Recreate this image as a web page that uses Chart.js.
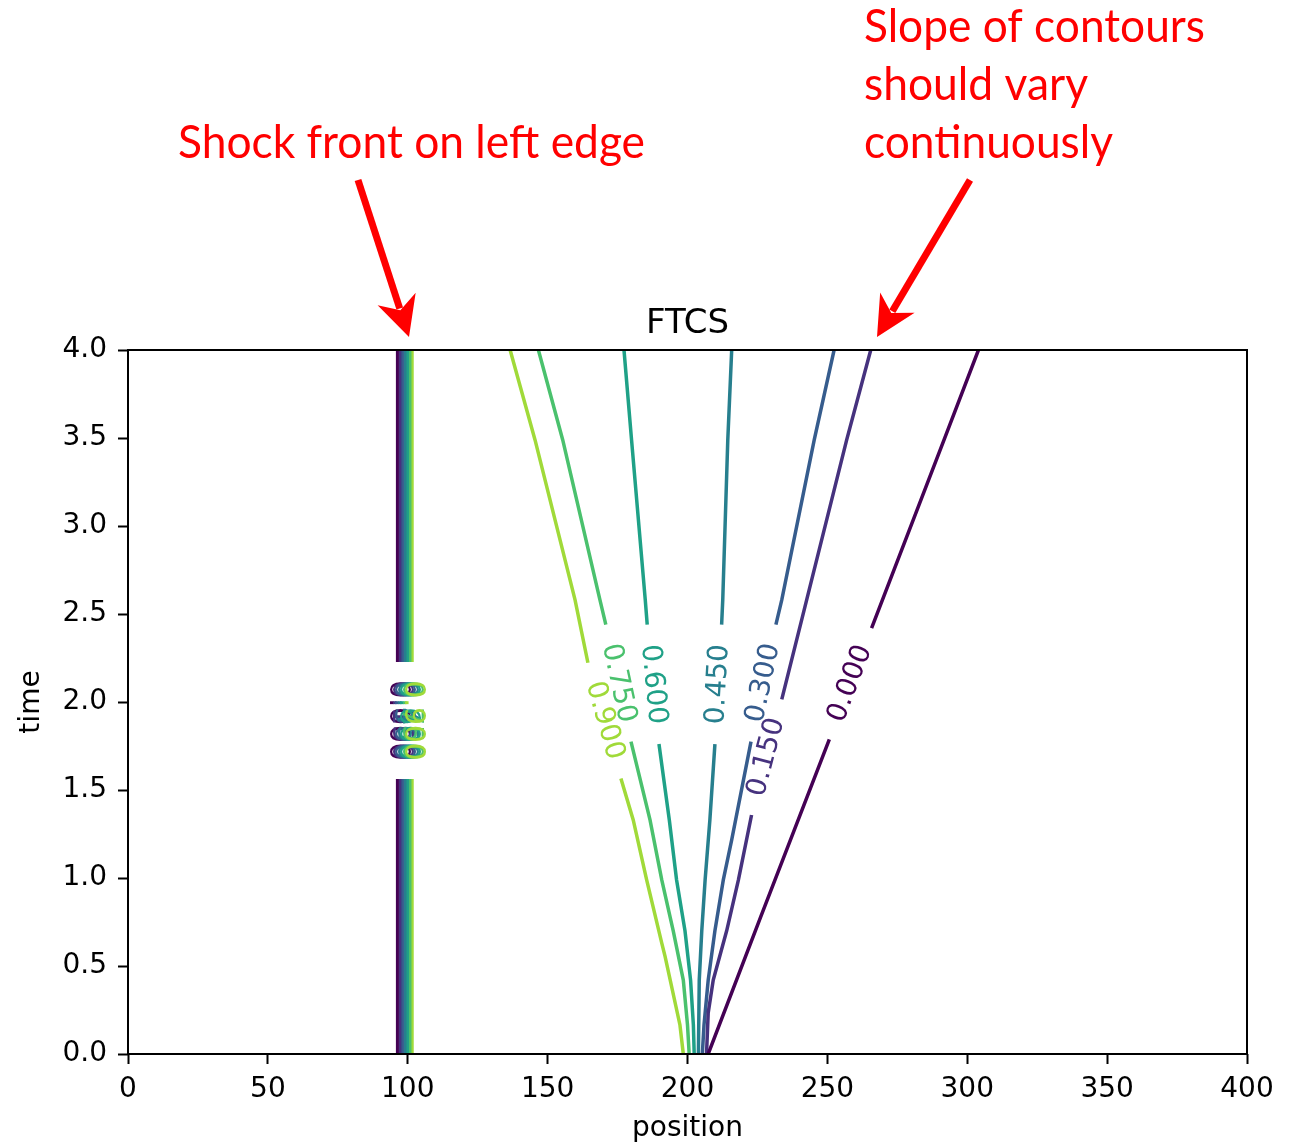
<!DOCTYPE html>
<html lang="en">
<head>
  <meta charset="UTF-8" />
  <title>FTCS contours</title>
  <script src="https://cdn.jsdelivr.net/npm/chart.js"></script>
  <style>
    body {
      margin: 0;
      background: #fff;
    }
    #wrap {
      width: 1291px;
      height: 1144px;
    }
  </style>
</head>
<body>
  <div id="wrap"><canvas id="ftcs" width="1291" height="1144"></canvas></div>

  <script>
    // contour levels (viridis over 0 .. 1.05)
    const levels = ['0.000', '0.150', '0.300', '0.450', '0.600', '0.750', '0.900'];
    const levelColors = ['#440154', '#46327e', '#365c8d', '#277f8e', '#1fa187', '#4ac16d', '#a0da39'];

    // contour paths: position / time, null = gap for the inline label
    const x000 = [207.4, 226.2, 250.7, null, 265.8, 291.7, 304.0];
    const t000 = [0, 0.78, 1.788, null, 2.42, 3.489, 4.0];

    const x150 = [206.8, 207.4, 209.2, 214.0, 218.2, 222.9, null, 233.7, 242.6, 256.9, 265.5];
    const t150 = [0, 0.233, 0.42, 0.70, 0.989, 1.358, null, 2.015, 2.58, 3.489, 4.0];

    const x300 = [205.3, 205.9, 207.4, 209.8, 212.8, 215.8, 222.7, null, 231.6, 233.7, 245.3, 252.4];
    const t300 = [0, 0.165, 0.42, 0.70, 0.989, 1.216, 1.775, null, 2.44, 2.58, 3.489, 4.0];

    const x450 = [203.9, 204.2, 205.1, 206.3, 208.0, 209.8, null, 212.2, 212.6, 214.4, 215.8];
    const t450 = [0, 0.42, 0.70, 0.989, 1.33, 1.761, null, 2.44, 2.58, 3.489, 4.0];

    const x600 = [202.4, 202.1, 201.1, 199.1, 196.1, 193.5, 189.8, null, 185.6, 184.9, 180.0, 177.3];
    const t600 = [0, 0.165, 0.42, 0.70, 0.989, 1.33, 1.761, null, 2.44, 2.58, 3.489, 4.0];

    const x750 = [200.6, 200.0, 198.5, 194.9, 190.8, 186.6, 179.8, null, 170.8, 168.7, 155.4, 146.7];
    const t750 = [0, 0.165, 0.42, 0.70, 0.989, 1.33, 1.775, null, 2.44, 2.58, 3.489, 4.0];

    const x900 = [198.5, 197.3, 192.0, 190.8, 185.4, 180.6, 176.2, null, 164.4, 159.8, 145.5, 136.6];
    const t900 = [0, 0.165, 0.553, 0.63, 0.989, 1.33, 1.566, null, 2.223, 2.58, 3.489, 4.0];

    const contourX = [x000, x150, x300, x450, x600, x750, x900];
    const contourT = [t000, t150, t300, t450, t600, t750, t900];

    // shock front on the left: one vertical contour per level
    const shockX = [96.3, 97.2, 98.1, 99.0, 99.9, 100.8, 101.6];
    const shockT = [0, 1.562, null, 2.227, 4.0];

    const xTicks = [0, 50, 100, 150, 200, 250, 300, 350, 400];
    const yTicks = [0, 0.5, 1.0, 1.5, 2.0, 2.5, 3.0, 3.5, 4.0];

    const datasets = [];
    levels.forEach((lev, i) => {
      datasets.push({
        label: lev,
        data: contourX[i].map((x, k) => ({ x: x, y: contourT[i][k] })),
        borderColor: levelColors[i],
        borderWidth: 3.5
      });
    });
    levels.forEach((lev, i) => {
      datasets.push({
        label: 'shock ' + lev,
        data: shockT.map(t => ({ x: t === null ? null : shockX[i], y: t })),
        borderColor: levelColors[i],
        borderWidth: 3
      });
    });

    // find the gap in a path and return the two points round it
    function gapEnds(data) {
      const g = data.findIndex(p => p.y === null);
      return [data[g - 1], data[g + 1]];
    }

    function drawArrow(ctx, x0, y0, x1, y1) {
      const len = Math.hypot(x1 - x0, y1 - y0);
      const dx = (x1 - x0) / len, dy = (y1 - y0) / len;
      const nx = -dy, ny = dx;
      ctx.strokeStyle = '#ff0000';
      ctx.fillStyle = '#ff0000';
      ctx.lineWidth = 7;
      ctx.beginPath();
      ctx.moveTo(x0, y0);
      ctx.lineTo(x1 - dx * 30, y1 - dy * 30);
      ctx.stroke();
      ctx.beginPath();
      ctx.moveTo(x1, y1);
      ctx.lineTo(x1 - dx * 40 + nx * 20, y1 - dy * 40 + ny * 20);
      ctx.lineTo(x1 - dx * 28, y1 - dy * 28);
      ctx.lineTo(x1 - dx * 40 - nx * 20, y1 - dy * 40 - ny * 20);
      ctx.closePath();
      ctx.fill();
    }

    function fitText(ctx, text, x, y, width) {
      const w = ctx.measureText(text).width;
      ctx.save();
      ctx.translate(x, y);
      ctx.scale(width / w, 1);
      ctx.fillText(text, 0, 0);
      ctx.restore();
    }

    const decor = {
      id: 'decor',
      afterDatasetsDraw(chart) {
        const { ctx, chartArea: a, scales: { x, y } } = chart;
        ctx.save();

        // frame
        ctx.strokeStyle = '#000';
        ctx.lineWidth = 2;
        ctx.strokeRect(a.left, a.top, a.right - a.left, a.bottom - a.top);

        // inline contour labels
        ctx.font = '28px "DejaVu Sans"';
        ctx.textAlign = 'center';
        ctx.textBaseline = 'middle';
        chart.data.datasets.forEach((ds, i) => {
          const [p1, p2] = gapEnds(ds.data);
          const x1 = x.getPixelForValue(p1.x), y1 = y.getPixelForValue(p1.y);
          const x2 = x.getPixelForValue(p2.x), y2 = y.getPixelForValue(p2.y);
          let ang = Math.atan2(y2 - y1, x2 - x1);
          if (ang > Math.PI / 2) ang -= Math.PI;
          if (ang <= -Math.PI / 2) ang += Math.PI;
          ctx.save();
          ctx.translate((x1 + x2) / 2, (y1 + y2) / 2);
          ctx.rotate(ang);
          ctx.fillStyle = ds.borderColor;
          ctx.fillText(levels[i % levels.length], 0, 0);
          ctx.restore();
        });

        // title
        ctx.fillStyle = '#000';
        ctx.font = '34px "DejaVu Sans"';
        ctx.textBaseline = 'alphabetic';
        ctx.fillText('FTCS', (a.left + a.right) / 2, a.top - 17);

        // red notes
        ctx.fillStyle = '#ff0000';
        ctx.textAlign = 'left';
        ctx.font = '46px Lato';
        fitText(ctx, 'Shock front on left edge', 178, 158, 467);
        fitText(ctx, 'Slope of contours', 864, 42, 341);
        fitText(ctx, 'should vary', 864, 100, 224);
        fitText(ctx, 'continuously', 864, 158, 249);

        drawArrow(ctx, 358, 180, 409, 337);
        drawArrow(ctx, 970, 180, 877, 337);

        ctx.restore();
      }
    };

    const tickFont = { family: 'DejaVu Sans', size: 28 };

    new Chart(document.getElementById('ftcs'), {
      type: 'scatter',
      data: { datasets },
      options: {
        responsive: false,
        animation: false,
        showLine: true,
        elements: {
          point: { radius: 0, hoverRadius: 0 },
          line: { tension: 0, fill: false }
        },
        layout: { padding: { top: 350, right: 44, bottom: 0, left: 0 } },
        plugins: {
          legend: { display: false },
          tooltip: { enabled: false }
        },
        scales: {
          x: {
            type: 'linear',
            min: 0,
            max: 400,
            afterFit: s => { s.height = 90; },
            afterBuildTicks: s => { s.ticks = xTicks.map(v => ({ value: v })); },
            grid: { drawOnChartArea: false, tickLength: 10, tickWidth: 2, tickColor: '#000' },
            border: { display: false },
            ticks: { color: '#000', font: tickFont, padding: 9, maxRotation: 0 },
            title: { display: true, text: 'position', color: '#000', font: tickFont, padding: { top: 0, bottom: -2 } }
          },
          y: {
            type: 'linear',
            min: 0,
            max: 4,
            afterFit: s => { s.width = 128; },
            afterBuildTicks: s => { s.ticks = yTicks.map(v => ({ value: v })); },
            grid: { drawOnChartArea: false, tickLength: 10, tickWidth: 2, tickColor: '#000' },
            border: { display: false },
            ticks: { color: '#000', font: tickFont, padding: 11, callback: v => v.toFixed(1) },
            title: { display: true, text: 'time', color: '#000', font: tickFont, padding: { top: 15, bottom: 0 } }
          }
        }
      },
      plugins: [decor]
    });
  </script>
</body>
</html>
